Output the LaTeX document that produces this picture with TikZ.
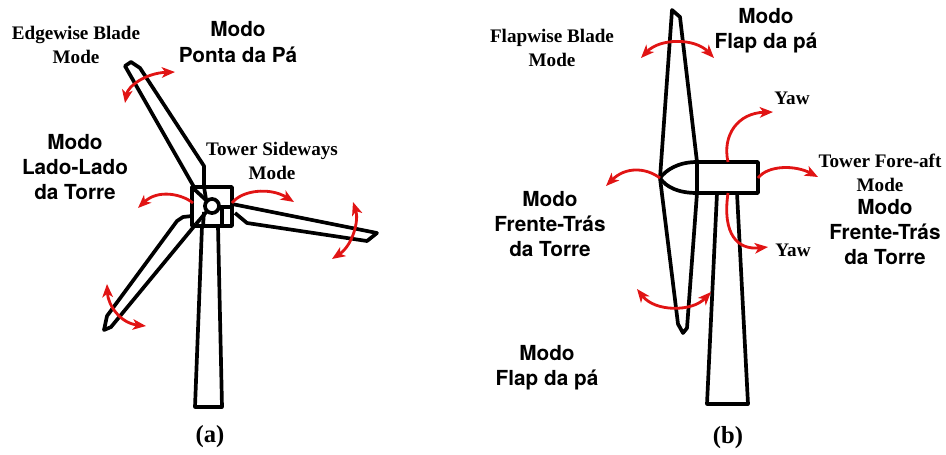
\documentclass[tikz,border=0pt]{standalone}
\usepackage{fontspec}
\setmainfont{Liberation Serif}
\setsansfont{TeX Gyre Heros}
\usetikzlibrary{arrows.meta}
\definecolor{modered}{RGB}{225,20,20}
\begin{document}
\begin{tikzpicture}[x=0.02cm,y=-0.02cm,
  outline/.style={line width=2.1pt, line join=round},
  redtip/.tip={Stealth[length=7.5pt,width=6pt,inset=2pt]},
  motion/.style={draw=modered, line width=1.6pt, -redtip},
  swing/.style={draw=modered, line width=1.6pt, redtip-redtip},
  enlabel/.style={font=\rmfamily\bfseries\fontsize{10.9}{13.3}\selectfont, align=center, inner sep=0pt},
  ptlabel/.style={font=\sffamily\bfseries\fontsize{11.8}{14.4}\selectfont, align=center, inner sep=0pt},
  caption/.style={font=\rmfamily\bfseries\fontsize{14}{16}\selectfont, inner sep=0pt}]
\useasboundingbox (0,0) rectangle (946,454);

% ---------- (a) rotor seen from the front ----------
% tower
\draw[outline] (202,226) -- (195,407) -- (222,407) -- (218,226);
% hub box and hub
\draw[outline] (192,187) rectangle (232,226);
\draw[outline] (212,206) circle[radius=4pt];
% upper blade
\draw[outline] (194,187) -- (125,66) -- (131,62) -- (140,68) -- (204,166) -- (204,187);
% lower-left blade
\draw[outline] (192,216) -- (183,217) -- (177,221) -- (107,316) -- (104,330) -- (111,327) -- (196,224);
% right blade
\draw[outline] (232,204) -- (377,233) -- (367,241) -- (247,223) -- (235,213);
% blade roots inside the hub box
\draw[outline] (194,189) -- (208,202);
\draw[outline] (204,187) -- (206,199);
\draw[outline] (196,224) -- (208,210);
\draw[outline] (204,212) -- (203,226);
\draw[outline] (217,207) -- (232,207);
\draw[outline] (222,207) -- (222,226);

% motion arrows (a)
\draw[swing] (125,103) .. controls (128,86) and (146,73) .. (175,72);
\draw[motion] (193,203) .. controls (182,194) and (158,189) .. (138,208);
\draw[motion] (232,203) .. controls (242,190) and (270,187) .. (294,202);
\draw[swing] (353,202) .. controls (359,220) and (353,245) .. (332,259);
\draw[swing] (107,284) .. controls (108,305) and (120,323) .. (146,326);

% labels (a)
\node[enlabel] (edgewise) at (76,45) {Edgewise Blade\\Mode};
\node[ptlabel] (ponta) at (238,42) {Modo\\Ponta da Pá};
\node[ptlabel] (ladolado) at (75,167) {Modo\\Lado-Lado\\da Torre};
\node[enlabel] (sideways) at (272,161) {Tower Sideways\\Mode};
\node[caption] (capa) at (210,437) {(a)};

% ---------- (b) rotor seen from the side ----------
% blade
\draw[outline] (660,178) -- (672,10) -- (680,17) -- (697,162);
\draw[outline] (697,193) -- (687,328) -- (683,333) -- (678,324) -- (660,178);
% tower
\draw[outline] (717,193) -- (707,404) -- (748,404) -- (737,193);
% nacelle
\draw[outline] (697,162) rectangle (758,193);
% spinner
\draw[outline] (697,162) .. controls (678,162) and (666,170) .. (660,178)
                         .. controls (666,187) and (678,193) .. (697,193);

% motion arrows (b)
\draw[swing] (641,58) .. controls (660,38) and (695,38) .. (714,58);
\draw[motion] (728,162) .. controls (722,135) and (738,113) .. (773,112);
\draw[motion] (758,178) .. controls (768,165) and (795,165) .. (818,177);
\draw[motion] (660,178) .. controls (645,167) and (625,167) .. (606,186);
\draw[motion] (728,193) .. controls (722,235) and (738,250) .. (768,247);
\draw[swing] (637,289) .. controls (655,312) and (692,312) .. (711,292);

% labels (b)
\node[enlabel] (flapwise) at (552,48) {Flapwise Blade\\Mode};
\node[ptlabel] (flaptop) at (766,31) {Modo\\Flap da pá};
\node[enlabel] (yawtop) at (792,98) {Yaw};
\node[enlabel] (foreaft) at (880,173) {Tower Fore-aft\\Mode};
\node[ptlabel] (frenteR) at (885,232) {Modo\\Frente-Trás\\da Torre};
\node[ptlabel] (frenteL) at (550,224) {Modo\\Frente-Trás\\da Torre};
\node[enlabel] (yawbottom) at (793,250) {Yaw};
\node[ptlabel] (flapbottom) at (547,368) {Modo\\Flap da pá};
\node[caption] (capb) at (728,438) {(b)};
\end{tikzpicture}
\end{document}
